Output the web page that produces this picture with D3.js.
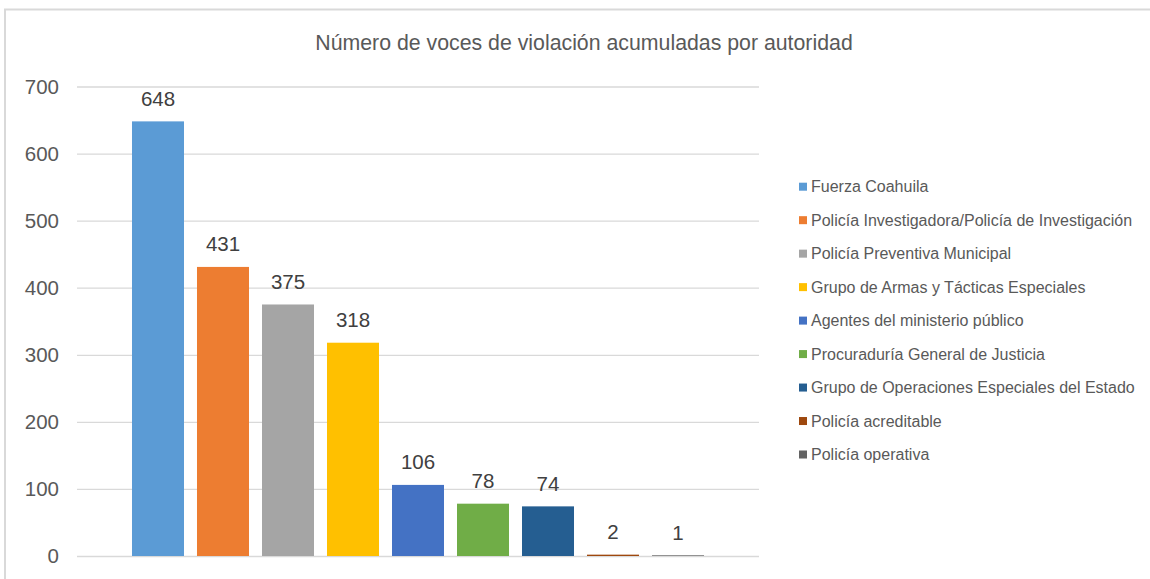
<!DOCTYPE html>
<html><head><meta charset="utf-8">
<script src="https://cdn.jsdelivr.net/npm/d3@7"></script>
<style>body{margin:0;background:#fff;font-family:"Liberation Sans",Arial,sans-serif}</style>
</head><body><svg id="c" width="1150" height="579"></svg>
<script>
const categories = ["Fuerza Coahuila","Policía Investigadora/Policía de Investigación","Policía Preventiva Municipal","Grupo de Armas y Tácticas Especiales","Agentes del ministerio público","Procuraduría General de Justicia","Grupo de Operaciones Especiales del Estado","Policía acreditable","Policía operativa"];
const values = [648,431,375,318,106,78,74,2,1];
const colors = ["#5B9BD5","#ED7D31","#A5A5A5","#FFC000","#4472C4","#70AD47","#255E91","#9E480E","#636363"];
const yTicks = [0,100,200,300,400,500,600,700];
const title = "Número de voces de violación acumuladas por autoridad";

const svg = d3.select("#c");
svg.append("rect").attr("x",5).attr("y",9.5).attr("width",1160).attr("height",600)
  .attr("fill","#fff").attr("stroke","#d9d9d9").attr("stroke-width",2);

const x0 = 77, x1 = 759;
const y = d3.scaleLinear().domain([0,700]).range([556,86.5]);
const x = d3.scaleBand().domain(categories).range([x0,x1]).paddingInner(0.2).paddingOuter(0.846);

svg.append("text").attr("x",584).attr("y",50).attr("text-anchor","middle")
  .attr("font-size",21.3).attr("fill","#595959").text(title);

const ax = svg.append("g").attr("transform",`translate(${x0},0)`)
  .call(d3.axisLeft(y).tickValues(yTicks).tickSize(-(x1-x0)).tickFormat(d3.format("d")));
ax.select(".domain").remove();
ax.selectAll(".tick line").attr("stroke","#d9d9d9").attr("stroke-width",1.3);
ax.selectAll(".tick text").attr("x",-18).attr("font-size",20.5).attr("fill","#595959").attr("font-family","Liberation Sans, Arial, sans-serif");

svg.selectAll(".bar").data(values).join("rect")
  .attr("x",(d,i)=>x(categories[i])).attr("width",x.bandwidth())
  .attr("y",d=>y(d)).attr("height",d=>y(0)-y(d)).attr("fill",(d,i)=>colors[i]);

svg.selectAll(".lbl").data(values).join("text")
  .attr("x",(d,i)=>x(categories[i])+x.bandwidth()/2).attr("y",d=>y(d)-15.5)
  .attr("text-anchor","middle").attr("font-size",20.5).attr("fill","#404040").text(d=>d);

const lg = svg.append("g");
const rowY = d3.scaleLinear().domain([0,8]).range([186.7,454.5]);
categories.forEach((c,i)=>{
  lg.append("rect").attr("x",799).attr("y",rowY(i)-4).attr("width",8).attr("height",8).attr("fill",colors[i]);
  lg.append("text").attr("x",811).attr("y",rowY(i)).attr("dy","0.35em").attr("font-size",16).attr("fill","#595959").text(c);
});
</script></body></html>
